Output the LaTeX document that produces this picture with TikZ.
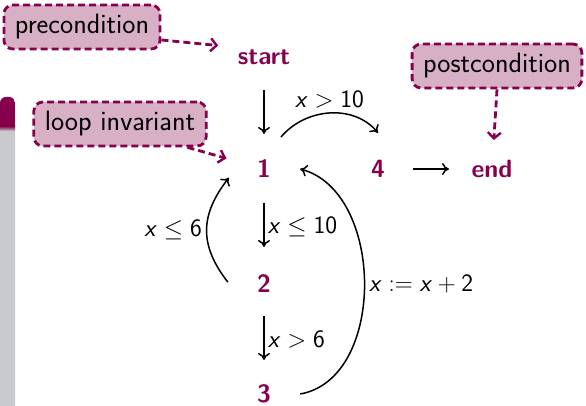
\documentclass[tikz,border=0pt]{standalone}
\usetikzlibrary{arrows.meta,calc}
\definecolor{purp}{RGB}{134,0,78}
\definecolor{pinkfill}{RGB}{216,176,198}
\definecolor{blockgray}{RGB}{201,202,205}
\newcommand{\vx}{\textsl{x}}
\begin{document}
\begin{tikzpicture}[x=1pt,y=1pt,
  every node/.style={font=\fontsize{25}{30}\selectfont\sffamily},
  state/.style={circle,minimum size=72pt,inner sep=0pt,text=purp,font=\fontsize{25}{30}\selectfont\sffamily\bfseries},
  note/.style={draw=purp,fill=pinkfill,line width=2.8pt,dash pattern=on 7pt off 4pt,rounded corners=9pt,minimum height=44pt,inner xsep=11pt,inner ysep=0pt,font=\fontsize{28}{32}\selectfont\sffamily},
  flow/.style={line width=1.5pt,-{Computer Modern Rightarrow[length=7pt,width=12pt,line width=1.5pt]}},
  dflow/.style={draw=purp,line width=2.8pt,dash pattern=on 7pt off 4pt,-{Straight Barb[length=6pt,width=13pt,line width=2.4pt]}},
  lbl/.style={font=\fontsize{25}{30}\selectfont\sffamily,inner sep=4pt}
]
\useasboundingbox (0,0) rectangle (586,-406);
% side block
\fill[blockgray,rounded corners=6pt] (0,-420) -- (0,-97) -- (15,-97) -- (15,-420) -- cycle;
\begin{scope}
\clip[rounded corners=6pt] (0,-420) -- (0,-97) -- (15,-97) -- (15,-420) -- cycle;
\fill[purp] (0,-90) rectangle (15,-126);
\shade[top color=purp,bottom color=blockgray] (0,-126) rectangle (15,-131);
\end{scope}

% states
\node[state] (start) at (264,-57) {start};
\node[state] (n1) at (264,-169) {1};
\node[state] (n4) at (378,-169) {4};
\node[state] (endn) at (492,-169) {end};
\node[state] (n2) at (264,-284) {2};
\node[state] (n3) at (264,-394) {3};

% notes
\node[note] (pre) at (82,-27) {precondition};
\node[note] (inv) at (120,-124) {loop invariant};
\node[note] (post) at (497,-66) {postcondition};

% flow arrows
\draw[flow,shorten <=33pt,shorten >=35pt] (start.center) -- (n1.center);
\draw[flow] (n1.62) to[out=50,in=130] node[lbl,above] {\vx${}>{}$10} (n4.90);
\draw[flow,shorten <=35pt,shorten >=43pt] (n4.center) -- (endn.center);
\draw[flow,shorten <=34pt,shorten >=37pt] (n1.center) -- node[lbl,right,inner sep=3pt] {\vx${}\le{}$10} (n2.center);
\draw[flow,shorten <=32pt,shorten >=34pt] (n2.center) -- node[lbl,right,inner sep=3pt] {\vx${}>{}$6} (n3.center);
\draw[flow] (n2.177) to[out=128,in=232,looseness=1.15] node[lbl,left] {\vx${}\le{}$6} (n1.194);
\draw[flow] (n3.0) to[out=10,in=-15] node[lbl,right] {\vx${}:={}$\vx${}+{}$2} (n1.0);

% dashed note arrows
\draw[dflow,shorten >=46pt] ([yshift=-13pt]pre.east) -- ([yshift=7pt]start.center);
\draw[dflow,shorten >=39pt] ([xshift=-20pt]inv.south east) -- (n1.center);
\draw[dflow,shorten >=29pt] (post.south) -- (endn.center);
\end{tikzpicture}
\end{document}
